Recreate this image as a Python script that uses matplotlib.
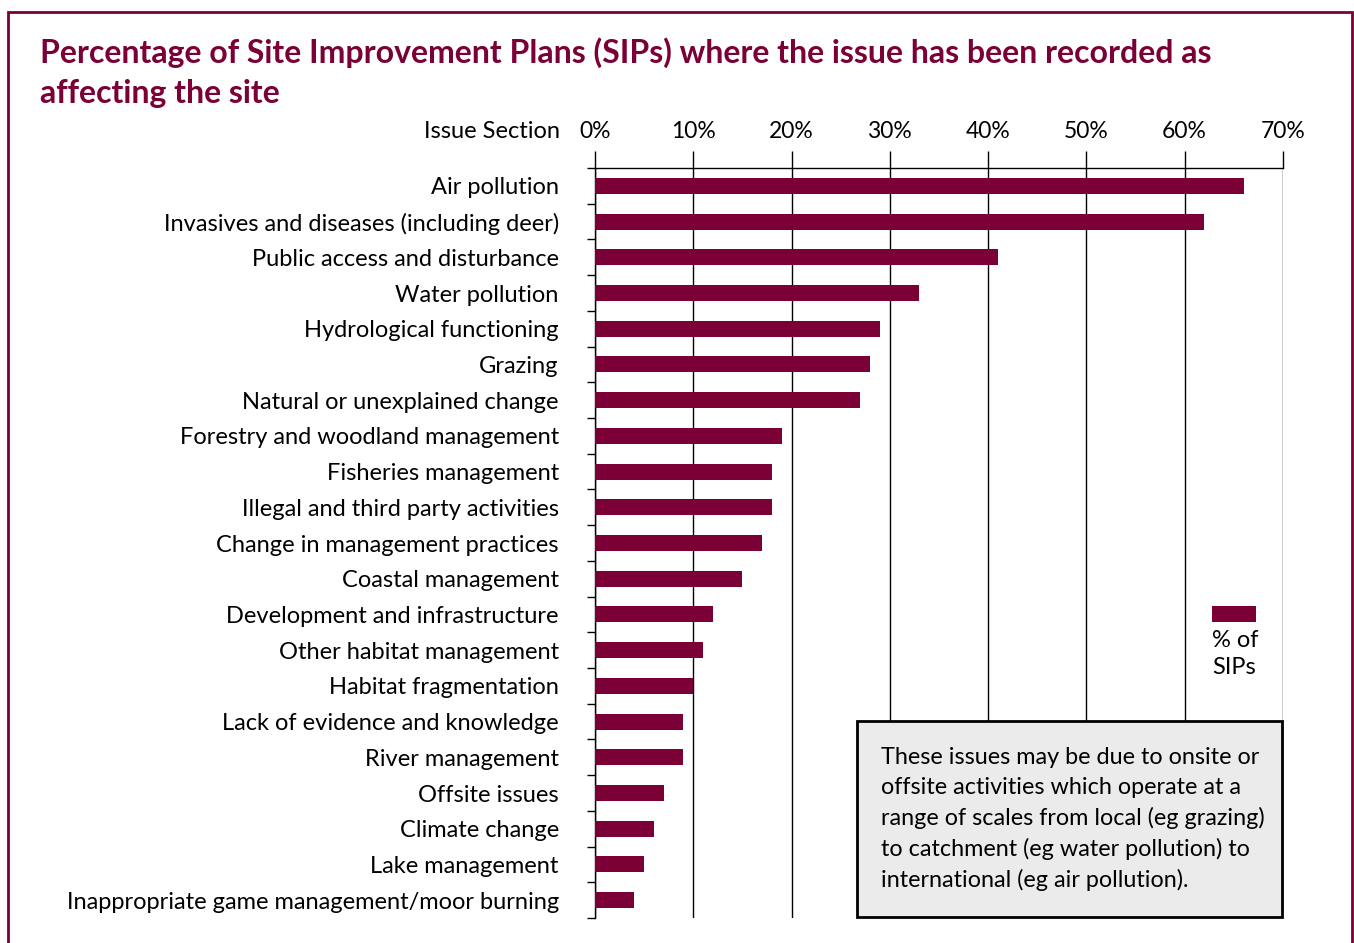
import numpy as np
import matplotlib.pyplot as plt
from matplotlib.patches import Rectangle

plt.rcParams['font.family'] = ['Lato', 'DejaVu Sans']

# issues, top to bottom
issues = [
    "Air pollution",
    "Invasives and diseases (including deer)",
    "Public access and disturbance",
    "Water pollution",
    "Hydrological functioning",
    "Grazing",
    "Natural or unexplained change",
    "Forestry and woodland management",
    "Fisheries management",
    "Illegal and third party activities",
    "Change in management practices",
    "Coastal management",
    "Development and infrastructure",
    "Other habitat management",
    "Habitat fragmentation",
    "Lack of evidence and knowledge",
    "River management",
    "Offsite issues",
    "Climate change",
    "Lake management",
    "Inappropriate game management/moor burning",
]
pct_sips = [66, 62, 41, 33, 29, 28, 27, 19, 18, 18, 17, 15, 12, 11, 10, 9, 9, 7, 6, 5, 4]
x_ticks = [0, 10, 20, 30, 40, 50, 60, 70]

maroon = "#7a0036"

fig = plt.figure(figsize=(13.54, 9.43), dpi=100)
ax = fig.add_axes([0.4394, 0.0265, 0.5081, 0.7953])

y = np.arange(len(issues))
ax.barh(y, pct_sips, height=0.45, color=maroon, zorder=3)

ax.set_ylim(len(issues) - 0.5, -0.5)
ax.set_xlim(0, 70)

# x axis on top
ax.xaxis.tick_top()
ax.set_xticks(x_ticks)
ax.set_xticklabels([f"{t}%" for t in x_ticks], fontsize=16.5)
ax.tick_params(axis='x', length=12, width=1, pad=7, color='black')
ax.grid(axis='x', color='black', linewidth=1, zorder=0)

# y labels centred on bars, ticks on the boundaries
ax.set_yticks(y)
ax.set_yticklabels(issues, fontsize=17)
ax.tick_params(axis='y', length=0, pad=26)
ax.set_yticks(np.arange(len(issues) + 1) - 0.5, minor=True)
ax.tick_params(axis='y', which='minor', length=6, width=1, color='black')

for s in ['bottom', 'right']:
    ax.spines[s].set_visible(False)
for s in ['left', 'top']:
    ax.spines[s].set_linewidth(1)
    ax.spines[s].set_color('black')

fig.text(560 / 1354, 1 - 131 / 943, "Issue Section", fontsize=17,
         ha='right', va='center')

# title
fig.text(40 / 1354, 1 - 73 / 943,
         "Percentage of Site Improvement Plans (SIPs) where the issue has been recorded as\naffecting the site",
         fontsize=23, fontweight='bold', color=maroon, ha='left', va='center',
         linespacing=1.45)

# legend
fig.patches.append(Rectangle((1212 / 1354, 1 - 622 / 943), 44 / 1354, 16 / 943,
                             transform=fig.transFigure, facecolor=maroon,
                             edgecolor='none'))
fig.text(1212 / 1354, 1 - 654 / 943, "% of\nSIPs", fontsize=17,
         ha='left', va='center', linespacing=1.3)

# note box
fig.patches.append(Rectangle((857 / 1354, 1 - 917 / 943), 425 / 1354, 196 / 943,
                             transform=fig.transFigure, facecolor='#ebebeb',
                             edgecolor='black', linewidth=2, zorder=5))
fig.text(881 / 1354, 1 - 819 / 943,
         "These issues may be due to onsite or\noffsite activities which operate at a\n"
         "range of scales from local (eg grazing)\nto catchment (eg water pollution) to\n"
         "international (eg air pollution).",
         fontsize=16.8, ha='left', va='center', linespacing=1.5, zorder=6)

# outer frame
fig.patches.append(Rectangle((8 / 1354, -0.05), 1344 / 1354, 1.05 - 12 / 943,
                             transform=fig.transFigure, facecolor='none',
                             edgecolor=maroon, linewidth=2, clip_on=False))

fig.savefig("out.png", dpi=100)
